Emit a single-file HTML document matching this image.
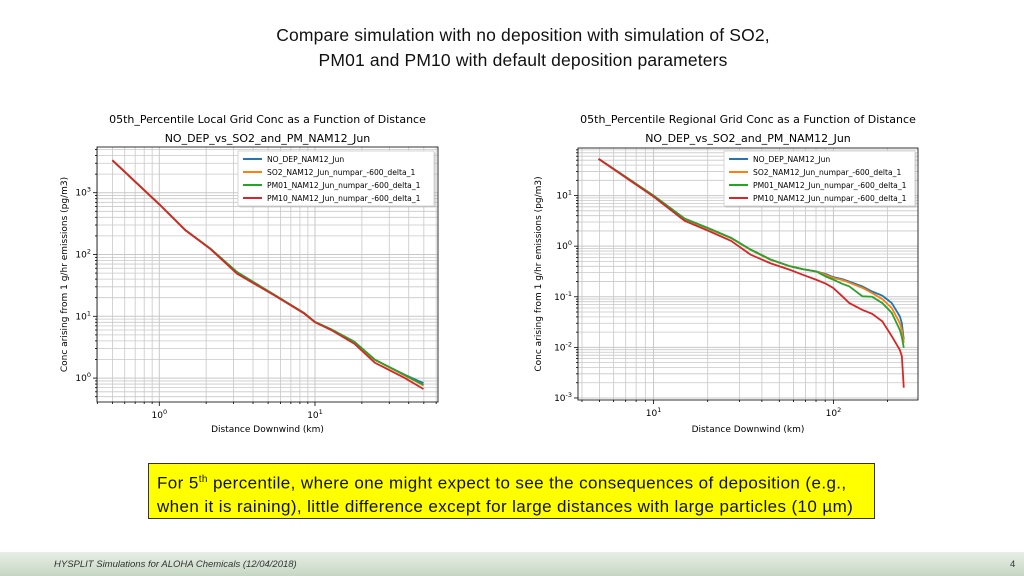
<!DOCTYPE html>
<html><head><meta charset="utf-8"><style>
body{margin:0;width:1024px;height:576px;background:#fff;position:relative;overflow:hidden;font-family:"Liberation Sans",sans-serif}
.hdr{position:absolute;top:23px;left:0;width:1046px;text-align:center;font-size:17.5px;line-height:25px;color:#111;letter-spacing:0.15px}
.box{position:absolute;left:148px;top:463px;width:727px;height:56px;background:#ffff00;border:1px solid #333;box-sizing:border-box;padding:4px 8px;font-size:17px;line-height:23px;color:#111;letter-spacing:0.4px;white-space:nowrap}
.foot{position:absolute;left:0;top:552px;width:1024px;height:24px;background:linear-gradient(#e8efe6,#c6d6c4)}
.foot span{position:absolute;top:7px;font-size:9.5px;font-style:italic;color:#333}
svg text{font-family:"DejaVu Sans",sans-serif}
</style></head><body>
<div class="hdr">Compare simulation with no deposition with simulation of SO2,<br>PM01 and PM10 with default deposition parameters</div>
<svg id="chart" width="1024" height="576" style="position:absolute;left:0;top:0"></svg>
<div class="box">For 5<sup style="font-size:10px">th</sup> percentile, where one might expect to see the consequences of deposition (e.g.,<br>when it is raining), little difference except for large distances with large particles (10 µm)</div>
<div class="foot"><span style="left:54px">HYSPLIT Simulations for ALOHA Chemicals (12/04/2018)</span><span style="left:1010px;font-style:normal">4</span></div>
<script>
const seriesNames=["NO_DEP_NAM12_Jun","SO2_NAM12_Jun_numpar_-600_delta_1","PM01_NAM12_Jun_numpar_-600_delta_1","PM10_NAM12_Jun_numpar_-600_delta_1"];
const colors=["#1f77b4","#ff7f0e","#2ca02c","#d62728"];
const leftX=[0.5,1,1.47,2.13,3.16,5.46,8.53,10,12.7,17.9,24.2,37.8,49.7];
const leftNoDep=[3350,650,248,123,49,22,11.1,8.1,6.1,3.65,1.97,1.13,0.83];
const leftSO2=[3350,650,248,123,49,22,11.1,8.1,6.1,3.65,1.97,1.1,0.76];
const leftPM01=[3350,650,248,125,52,22.5,11.3,8.1,6.2,3.9,2.0,1.12,0.78];
const leftPM10=[3350,650,248,123,49,22,11.1,8.0,6.0,3.6,1.78,1.0,0.665];
const rightX=[4.95,10,14.9,20,27,34.6,44.6,57.4,67.9,80.2,91,100,112,122.6,145,164,187,211,234,240,246];
const rightNoDep=[53,10,3.46,2.26,1.44,0.85,0.54,0.40,0.35,0.316,0.28,0.244,0.223,0.20,0.16,0.127,0.105,0.075,0.041,0.03,0.0142];
const rightSO2=[53,10,3.46,2.26,1.44,0.85,0.54,0.40,0.35,0.316,0.27,0.235,0.215,0.19,0.15,0.118,0.09,0.06,0.030,0.022,0.0123];
const rightPM01=[53,10,3.5,2.3,1.46,0.86,0.55,0.40,0.35,0.316,0.25,0.217,0.18,0.16,0.102,0.10,0.075,0.048,0.022,0.016,0.0098];
const rightPM10=[53,9.5,3.16,2.04,1.27,0.68,0.46,0.34,0.27,0.217,0.18,0.148,0.102,0.075,0.055,0.046,0.0326,0.0166,0.0089,0.0067,0.0016];
const svg=document.getElementById('chart');const NS='http://www.w3.org/2000/svg';
function mk(t,a,p){const e=document.createElementNS(NS,t);for(const k in a)e.setAttribute(k,a[k]);(p||svg).appendChild(e);return e;}
function chart(o){
 const g=mk('g',{});
 
 
 const X=v=>o.x0+(Math.log10(v)-o.lx0)/(o.lx1-o.lx0)*(o.x1-o.x0);
 const Y=v=>o.y1-(Math.log10(v)-o.ly0)/(o.ly1-o.ly0)*(o.y1-o.y0);
 for(let d=Math.floor(o.lx0);d<=Math.ceil(o.lx1);d++)for(let m=1;m<10;m++){const v=m*Math.pow(10,d),l=Math.log10(v);if(l<o.lx0||l>o.lx1)continue;const x=X(v);
  const gl=mk('line',{x1:x,x2:x,y1:o.y0,y2:o.y1,stroke:'#c8c8c8','stroke-width':m==1?1:0.8},g);
  mk('line',{x1:x,x2:x,y1:o.y1,y2:o.y1+(m==1?4:2),stroke:'#000','stroke-width':0.8},g);
  if(m==1){const t=mk('text',{x:x,y:o.y1+16,'font-size':9,'text-anchor':'middle'},g);t.innerHTML='10<tspan dy="-4" font-size="6.5">'+d+'</tspan>';}}
 for(let d=Math.floor(o.ly0);d<=Math.ceil(o.ly1);d++)for(let m=1;m<10;m++){const v=m*Math.pow(10,d),l=Math.log10(v);if(l<o.ly0||l>o.ly1)continue;const y=Y(v);
  const gl=mk('line',{x1:o.x0,x2:o.x1,y1:y,y2:y,stroke:'#c8c8c8','stroke-width':m==1?1:0.8},g);
  mk('line',{x1:o.x0-(m==1?4:2),x2:o.x0,y1:y,y2:y,stroke:'#000','stroke-width':0.8},g);
  if(m==1){const t=mk('text',{x:o.x0-6,y:y+3,'font-size':9,'text-anchor':'end'},g);t.innerHTML='10<tspan dy="-4" font-size="6.5">'+d+'</tspan>';}}
 o.series.forEach((s,i)=>{const p=mk('polyline',{points:s.map((v,j)=>X(o.xs[j])+','+Y(v)).join(' '),fill:'none',stroke:colors[i],'stroke-width':1.8},g);
  });
 const fr=mk('rect',{x:o.x0,y:o.y0,width:o.x1-o.x0,height:o.y1-o.y0,fill:'none',stroke:'#000','stroke-width':0.8},g);
 const cx=(o.x0+o.x1)/2;
 let t=mk('text',{x:cx,y:123,'font-size':11,'text-anchor':'middle'},g);t.textContent=o.title;
 t=mk('text',{x:cx,y:142,'font-size':11,'text-anchor':'middle'},g);t.textContent='NO_DEP_vs_SO2_and_PM_NAM12_Jun';
 t=mk('text',{x:cx,y:432,'font-size':9,'text-anchor':'middle'},g);t.textContent='Distance Downwind (km)';
 t=mk('text',{x:0,y:0,'font-size':9,'text-anchor':'middle',transform:'translate('+o.yl+','+((o.y0+o.y1)/2)+') rotate(-90)'},g);t.textContent='Conc arising from 1 g/hr emissions (pg/m3)';
 const lg=mk('g',{},g);
 mk('rect',{x:o.lgx+1.5,y:152.5,width:o.lgw,height:55,fill:'#999',opacity:0.4},lg);
 mk('rect',{x:o.lgx,y:151,width:o.lgw,height:55,fill:'#fff',stroke:'#ccc','stroke-width':0.8},lg);
 seriesNames.forEach((n,i)=>{const y=159+i*13;mk('line',{x1:o.lgx+5,x2:o.lgx+24,y1:y,y2:y,stroke:colors[i],'stroke-width':2},lg);
  const e=mk('text',{x:o.lgx+29,y:y+3,'font-size':7.6},lg);e.textContent=n;});
}
chart({name:'local-grid-chart',title:'05th_Percentile Local Grid Conc as a Function of Distance',x0:97,x1:438,y0:147,y1:402,lx0:-0.4,lx1:1.79,ly0:-0.387,ly1:3.74,yl:67,lgx:238,lgw:196,xs:leftX,series:[leftNoDep,leftSO2,leftPM01,leftPM10]});
chart({name:'regional-grid-chart',title:'05th_Percentile Regional Grid Conc as a Function of Distance',x0:578,x1:918,y0:148,y1:400,lx0:0.58,lx1:2.47,ly0:-3.04,ly1:1.94,yl:541,lgx:724,lgw:191,xs:rightX,series:[rightNoDep,rightSO2,rightPM01,rightPM10]});
</script>
</body></html>
